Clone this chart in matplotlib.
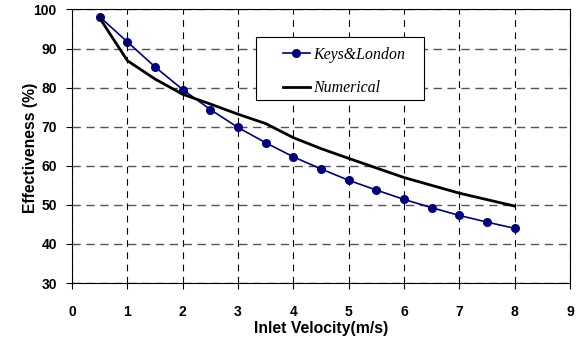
import matplotlib
matplotlib.use("Agg")
import matplotlib.pyplot as plt
from matplotlib.patches import Rectangle

# Keys & London correlation
kl_v = [0.5, 1.0, 1.5, 2.0, 2.5, 3.0, 3.5, 4.0, 4.5, 5.0, 5.5, 6.0, 6.5, 7.0, 7.5, 8.0]
kl_eff = [98.1, 91.7, 85.3, 79.5, 74.4, 69.8, 65.9, 62.3, 59.2, 56.3, 53.8, 51.4, 49.3, 47.3, 45.6, 44.0]

# numerical result
num_v = [0.5, 1.0, 1.5, 2.0, 2.5, 3.0, 3.5, 4.0, 4.5, 5.0, 6.0, 7.0, 8.0]
num_eff = [97.8, 86.9, 82.2, 78.3, 75.8, 73.2, 70.8, 67.2, 64.4, 61.9, 57.0, 53.0, 49.7]

plt.rcParams['font.family'] = ['Liberation Sans', 'DejaVu Sans']

fig = plt.figure(figsize=(5.81, 3.37), dpi=100)
ax = fig.add_axes([0.124, 0.16, 0.857, 0.812])

ax.plot(kl_v, kl_eff, color='#000080', lw=1.2, marker='o', markersize=5.5, label='Keys&London', zorder=3)
ax.plot(num_v, num_eff, color='black', lw=2, label='Numerical', zorder=3)

ax.set_xlim(0, 9)
ax.set_ylim(30, 100)
ax.set_xticks(range(0, 10))
ax.set_yticks(range(30, 101, 10))

ax.xaxis.grid(True, color='black', ls=(0, (6, 5)), lw=0.8)
ax.yaxis.grid(True, color='#555555', ls=(0, (6, 4)), lw=1.0)
ax.tick_params(direction='out', length=4, width=0.8, labelsize=10)
ax.tick_params(axis='x', pad=12)
ax.tick_params(axis='y', pad=7)
for lab in ax.get_xticklabels() + ax.get_yticklabels():
    lab.set_fontweight('bold')

ax.set_xlabel('Inlet Velocity(m/s)', fontsize=11.3, fontweight='bold', labelpad=1)
ax.set_ylabel('Effectiveness (%)', fontsize=11.3, fontweight='bold')
ax.yaxis.set_label_coords(-0.068, 0.495)

# legend box drawn separately so the padding can differ per side
box = Rectangle((0.3695, 0.669), 0.3373, 0.2315, transform=ax.transAxes,
                facecolor='white', edgecolor='black', lw=0.8, zorder=4)
ax.add_patch(box)
leg = ax.legend(loc='upper left', bbox_to_anchor=(0.423, 0.864), frameon=False,
                borderpad=0, borderaxespad=0, labelspacing=1.1,
                handlelength=1.7, handletextpad=0.25,
                prop={'family': 'Liberation Serif', 'style': 'italic', 'size': 11.4})
leg.set_zorder(5)

fig.savefig('out.png', dpi=100)
